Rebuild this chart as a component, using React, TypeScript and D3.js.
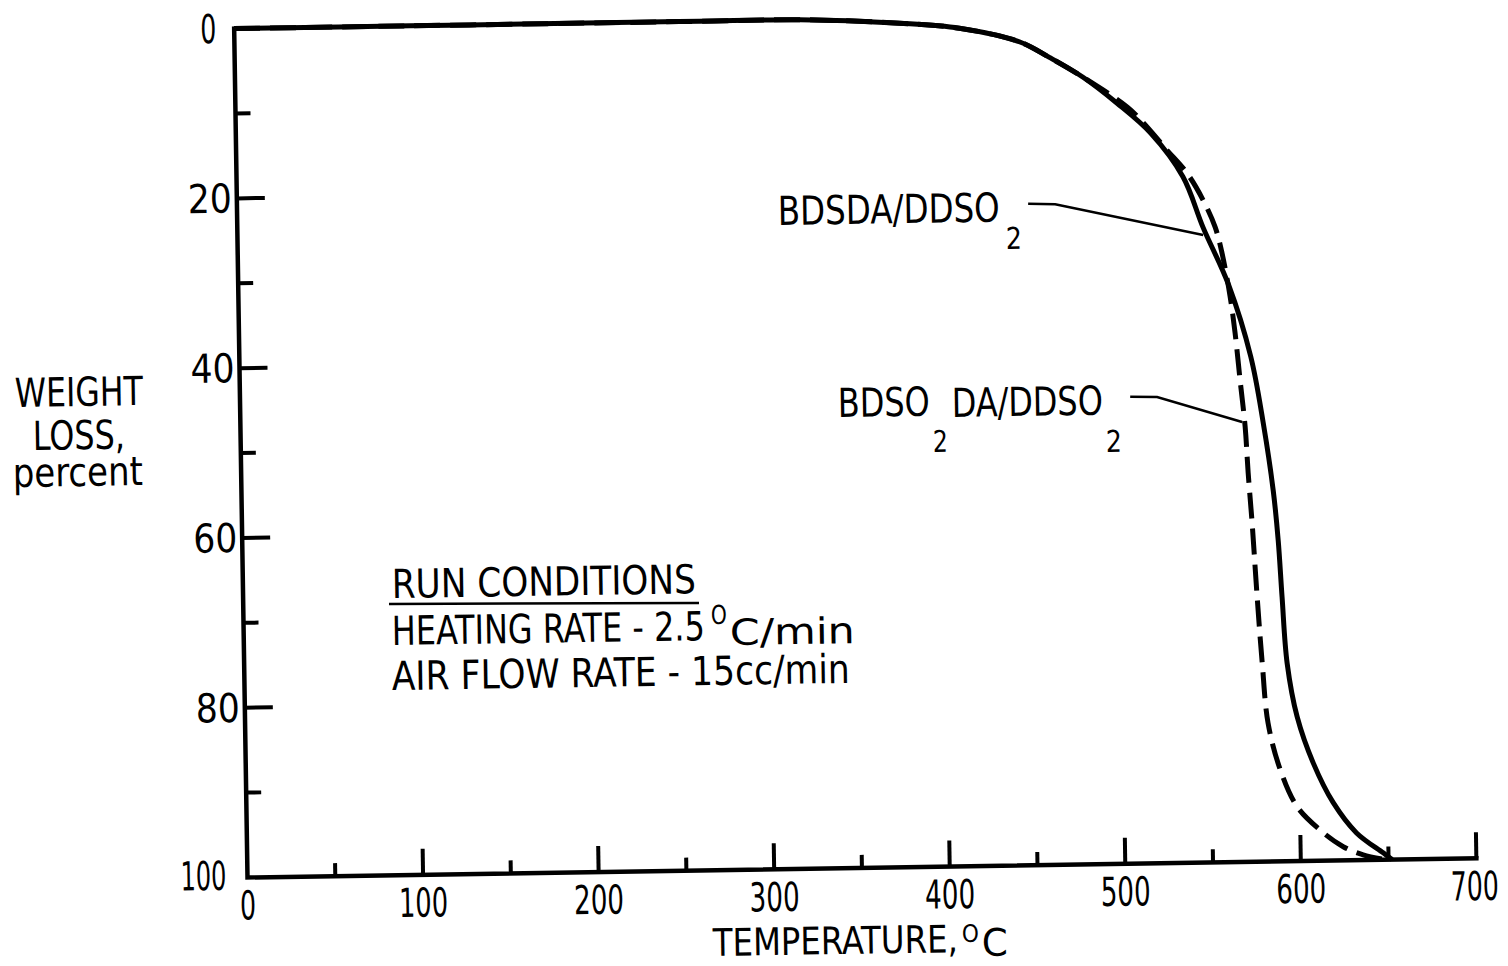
import React from "react"
import * as d3 from "d3"

// temperature (deg C) vs weight loss (percent)
const tempSolid = [0, 100, 200, 265, 322, 379, 413, 447, 464, 483, 502, 521, 539, 550, 564, 576, 582.5, 587.6, 590, 591.7, 594, 599.2, 608, 619, 632, 647, 652]
const lossSolid = [0, 0, 0, 0, 0, 0.6, 1.3, 3.0, 4.9, 7.3, 10.4, 14.0, 19.2, 25.2, 32.0, 40.5, 48.3, 56.3, 62.2, 68.9, 76.7, 83.0, 88.5, 93.2, 96.8, 99.2, 100]

const tempDashed = [0, 100, 200, 265, 322, 379, 413, 447, 464, 483, 508, 517, 530, 541.4, 550.3, 556.9, 560.6, 564.8, 567.3, 569.7, 572.2, 573.5, 575.3, 577.5, 579.8, 582.6, 589.1, 598.4, 611.3, 624.3, 635.6, 648]
const lossDashed = [0, 0, 0, 0, 0, 0.6, 1.3, 3.0, 4.9, 7.3, 10.9, 12.8, 16.0, 18.8, 22.0, 25.2, 28.3, 33.4, 37.7, 43.2, 48.8, 54.2, 60.1, 68.8, 76.6, 83.7, 89.2, 93.6, 96.4, 98.4, 99.4, 100]

// leader lines from the labels to the curves
const leader1Temp = [450.6, 466, 550]
const leader1Loss = [22.1, 22.2, 26.1]
const leader2Temp = [507, 522.3, 570.5]
const leader2Loss = [45.0, 45.1, 48.2]

const xTicks = [0, 100, 200, 300, 400, 500, 600, 700]
const xMinor = [50, 150, 250, 350, 450, 550, 650]
const yTicks = [0, 20, 40, 60, 80, 100]
const yMinor = [10, 30, 50, 70, 90]

const FONT = "'Liberation Sans Narrow','DejaVu Sans Condensed','DejaVu Sans',sans-serif"
const TILT = -0.9

type P = [number, number]
const zip = (a: number[], b: number[]): P[] => a.map((v, i) => [v, b[i]])

const Txt = ({ x, y, w, size = 40, anchor = "start", rot = true, children }: any) => (
  <text
    x={x}
    y={y}
    fontSize={size}
    fontFamily={FONT}
    textAnchor={anchor}
    textLength={w}
    lengthAdjust="spacingAndGlyphs"
    fill="#000"
    transform={rot ? `rotate(${TILT},${x},${y})` : undefined}
  >
    {children}
  </text>
)

// tick numbers: squeezed horizontally to the narrow hand lettering
const NUM_FONT = "'DejaVu Sans',sans-serif"
const Num = ({ x, y, w, anchor, value }: any) => {
  const s = String(value)
  const sx = w / (s.length * 0.636 * 40)
  return (
    <text
      transform={`translate(${x},${y}) scale(${sx},1)`}
      fontSize={40}
      fontFamily={NUM_FONT}
      textAnchor={anchor}
      fill="#000"
    >
      {s}
    </text>
  )
}

// hand-lettered tick labels: narrow for 0/100, wider for the two-digit ones
const yLabelWidth = (t: number) => (t === 0 ? 16 : t === 100 ? 46 : 44)
const yLabelGap = (t: number) => (t === 0 ? 18 : t === 100 ? 21 : 5)
const xLabelWidth = (t: number) => (t === 0 ? 16 : t === 100 ? 49 : t === 700 ? 48 : 50)

export default function App() {
  const width = 1508
  const height = 966

  const x = d3.scaleLinear().domain([0, 700]).range([0, 1229])
  const y = d3.scaleLinear().domain([0, 100]).range([-849, 0])

  const line = d3
    .line<P>()
    .x((d) => x(d[0]))
    .y((d) => y(d[1]))
    .curve(d3.curveCatmullRom.alpha(0.5))

  const straight = d3
    .line<P>()
    .x((d) => x(d[0]))
    .y((d) => y(d[1]))

  return (
    <svg
      width={width}
      height={height}
      style={{ position: "absolute", left: 0, top: 0, background: "#fff" }}
    >
      <rect width={width} height={height} fill="#fff" />
      <g transform={`translate(247.5,877.5) rotate(${TILT})`}>
        {/* axes */}
        <path
          d={`M${x(0)},${y(0)}V${y(100)}H${x(700)}`}
          fill="none"
          stroke="#000"
          strokeWidth={4.5}
          strokeLinecap="square"
        />
        {xTicks.slice(1).map((t) => (
          <line key={t} x1={x(t)} x2={x(t)} y1={0} y2={-26} stroke="#000" strokeWidth={4} />
        ))}
        {xMinor.map((t) => (
          <line key={t} x1={x(t)} x2={x(t)} y1={0} y2={-13} stroke="#000" strokeWidth={4} />
        ))}
        {yTicks.slice(1, -1).map((t) => (
          <line key={t} x1={0} x2={28} y1={y(t)} y2={y(t)} stroke="#000" strokeWidth={4} />
        ))}
        {yMinor.map((t) => (
          <line key={t} x1={0} x2={15} y1={y(t)} y2={y(t)} stroke="#000" strokeWidth={4} />
        ))}
        {xTicks.map((t) => (
          <Num key={t} x={t === 700 ? x(t) - 2 : x(t)} y={42} w={xLabelWidth(t)} anchor="middle" value={t} />
        ))}
        {yTicks.map((t) => (
          <Num
            key={t}
            x={-yLabelGap(t)}
            y={y(t) + (t === 100 ? 12 : 14)}
            w={yLabelWidth(t)}
            anchor="end"
            value={t}
          />
        ))}

        {/* curves */}
        <path d={line(zip(tempSolid, lossSolid)) || ""} fill="none" stroke="#000" strokeWidth={5} />
        <path
          d={line(zip(tempDashed, lossDashed)) || ""}
          fill="none"
          stroke="#000"
          strokeWidth={5}
          strokeDasharray="26 10"
        />

        {/* leaders */}
        <path d={straight(zip(leader1Temp, leader1Loss)) || ""} fill="none" stroke="#000" strokeWidth={2.5} />
        <path d={straight(zip(leader2Temp, leader2Loss)) || ""} fill="none" stroke="#000" strokeWidth={2.5} />
      </g>

      {/* curve labels */}
      <Txt x={778} y={225} w={222}>BDSDA/DDSO</Txt>
      <Txt x={1006} y={249} w={16} size={30}>2</Txt>
      <Txt x={838} y={417} w={92}>BDSO</Txt>
      <Txt x={933} y={452} w={15} size={30}>2</Txt>
      <Txt x={952} y={417} w={151}>DA/DDSO</Txt>
      <Txt x={1106} y={452} w={16} size={30}>2</Txt>

      {/* run conditions */}
      <Txt x={392} y={598} w={304}>RUN CONDITIONS</Txt>
      <line x1={389} x2={699} y1={604} y2={603} stroke="#000" strokeWidth={2.5} />
      <Txt x={392} y={645} w={313}>HEATING RATE - 2.5</Txt>
      <Txt x={711} y={624} w={16} size={26}>O</Txt>
      <Txt x={730} y={645} w={125} size={36}>C/min</Txt>
      <Txt x={392} y={690} w={458}>AIR FLOW RATE - 15cc/min</Txt>

      {/* axis titles */}
      <Txt x={15} y={407} w={128}>WEIGHT</Txt>
      <Txt x={33} y={450} w={92}>LOSS,</Txt>
      <Txt x={13} y={487} w={130}>percent</Txt>
      <Txt x={713} y={956} w={245} size={38}>TEMPERATURE,</Txt>
      <Txt x={962} y={942} w={17} size={24}>O</Txt>
      <Txt x={982} y={956} w={26} size={38}>C</Txt>
    </svg>
  )
}
